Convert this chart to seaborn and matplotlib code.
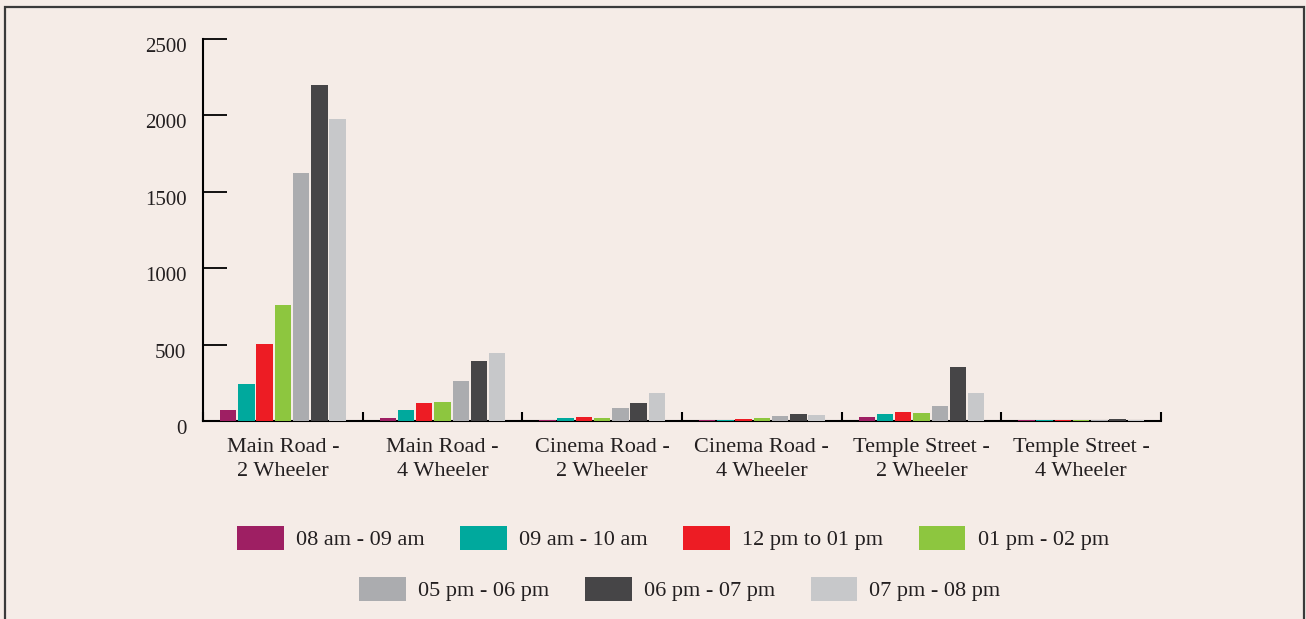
import matplotlib
matplotlib.use("Agg")
import matplotlib.pyplot as plt
import matplotlib.transforms as mtransforms
import seaborn as sns
import pandas as pd
from matplotlib.patches import Rectangle

categories = ["Main Road -\n2 Wheeler", "Main Road -\n4 Wheeler", "Cinema Road -\n2 Wheeler",
              "Cinema Road -\n4 Wheeler", "Temple Street -\n2 Wheeler", "Temple Street -\n4 Wheeler"]
slots = ["08 am - 09 am", "09 am - 10 am", "12 pm to 01 pm", "01 pm - 02 pm",
         "05 pm - 06 pm", "06 pm - 07 pm", "07 pm - 08 pm"]
s_0809 = [75, 20, 9, 8, 28, 4]
s_0910 = [240, 70, 20, 8, 48, 4]
s_1201 = [505, 115, 28, 15, 60, 8]
s_0102 = [760, 125, 20, 20, 55, 5]
s_0506 = [1620, 265, 85, 35, 95, 8]
s_0607 = [2200, 395, 115, 45, 355, 12]
s_0708 = [1975, 445, 180, 40, 185, 7]
series = [s_0809, s_0910, s_1201, s_0102, s_0506, s_0607, s_0708]
colors = ["#9e1f63", "#00a99d", "#ed1c24", "#8dc63f", "#abacaf", "#464547", "#c7c8ca"]
yticks = [0, 500, 1000, 1500, 2000, 2500]

rows = []
for slot, vals in zip(slots, series):
    for cat, v in zip(categories, vals):
        rows.append({"cat": cat, "slot": slot, "value": v})
df = pd.DataFrame(rows)

bg = "#f5ece7"
txt = "#231f20"
sns.set_theme(style="white")
plt.rcParams["font.family"] = ["Liberation Serif", "DejaVu Serif"]

fig = plt.figure(figsize=(13.06, 6.19), dpi=100, facecolor=bg)
ax = fig.add_axes([203/1306, 1 - 421/619, (1161-203)/1306, (421-39)/619])
ax.set_facecolor(bg)

sns.barplot(data=df, x="cat", y="value", hue="slot", order=categories, hue_order=slots,
            palette=colors, saturation=1, width=0.8, linewidth=0, ax=ax, legend=True)

# small gaps between adjacent bars; bars drawn over the axis line
for p in ax.patches:
    w = p.get_width()
    if w > 0:
        shrink = w * 0.1
        p.set_x(p.get_x() + shrink / 2)
        p.set_width(w - shrink)
        p.set_zorder(3)
        p.set_clip_on(False)

ax.set_xlim(-0.5, 5.5)
ax.set_ylim(0, 2500)
ax.set_yticks(yticks)
ax.set_yticklabels([str(t) for t in yticks])
ax.set_xlabel("")
ax.set_ylabel("")
for s in ["top", "right"]:
    ax.spines[s].set_visible(False)
for s in ["left", "bottom"]:
    ax.spines[s].set_color("black")
    ax.spines[s].set_linewidth(1.5)
ax.spines["bottom"].set_zorder(2)

ax.tick_params(axis="y", direction="in", length=17, width=1.3, color="black", pad=12,
               labelsize=15, labelcolor=txt, left=True)
ax.tick_params(axis="x", which="major", length=0, pad=12, labelsize=16, labelcolor=txt)
ax.set_xticks([i - 0.5 for i in range(7)], minor=True)
ax.tick_params(axis="x", which="minor", direction="in", length=6.5, width=1.5, color="black", bottom=True)
for lab in ax.get_xticklabels():
    lab.set_linespacing(1.35)
off = mtransforms.ScaledTranslation(0, -6/100, fig.dpi_scale_trans)
for lab in ax.get_yticklabels():
    lab.set_transform(lab.get_transform() + off)

handles, labels = ax.get_legend_handles_labels()
ax.get_legend().remove()
leg_kw = dict(frameon=False, fontsize=16, handlelength=2.1, handleheight=1.3,
              handletextpad=0.55, columnspacing=1.6, labelcolor=txt)
leg1 = fig.legend(handles[:4], labels[:4], ncol=4, loc="center",
                  bbox_to_anchor=(673/1306, 1 - 538/619), **leg_kw)
leg2 = fig.legend(handles[4:], labels[4:], ncol=3, loc="center",
                  bbox_to_anchor=(680/1306, 1 - 589/619), **leg_kw)
for leg in (leg1, leg2):
    for h in leg.legend_handles:
        h.set_edgecolor("none")

border = Rectangle((5/1306, -0.1), 1299/1306, (1 - 7/619) + 0.1, transform=fig.transFigure,
                   fill=False, edgecolor="#3a3a3a", linewidth=1.6, clip_on=False)
fig.patches.append(border)

fig.savefig("out.png", dpi=100, facecolor=bg)
